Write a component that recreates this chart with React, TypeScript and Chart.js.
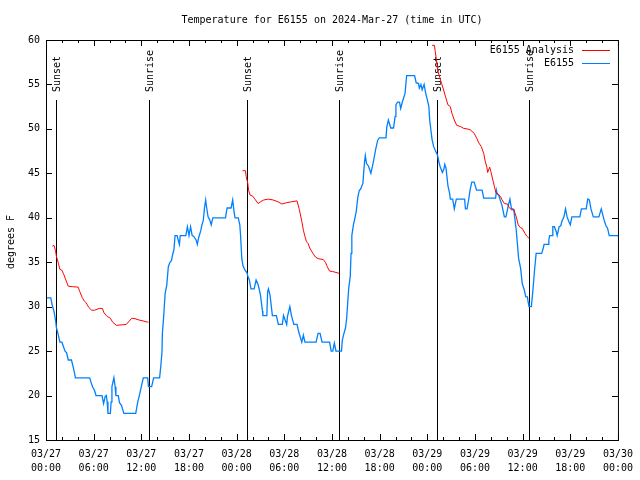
import React, { useEffect, useRef } from "react";
import { Chart, registerables } from "chart.js";

Chart.register(...registerables);

const chartTitle = "Temperature for E6155 on 2024-Mar-27 (time in UTC)";
const yAxisLabel = "degrees F";
const seriesNames = ["E6155 Analysis", "E6155"];

const xTickDates = ["03/27", "03/27", "03/27", "03/27", "03/28", "03/28", "03/28", "03/28", "03/29", "03/29", "03/29", "03/29", "03/30"];
const xTickTimes = ["00:00", "06:00", "12:00", "18:00", "00:00", "06:00", "12:00", "18:00", "00:00", "06:00", "12:00", "18:00", "00:00"];

const sunHours = [1.25, 12.92, 25.28, 36.9, 49.17, 60.8];
const sunLabels = ["Sunset", "Sunrise", "Sunset", "Sunrise", "Sunset", "Sunrise"];

// hours since 03/27 00:00 UTC
const blueHours = [
  0, 0.6, 0.8, 1.0, 1.2, 1.3, 1.55, 1.75, 2.0, 2.2, 2.4, 2.6, 2.8, 3.2, 3.4, 3.6, 3.7, 5.5, 5.7, 5.9,
  6.1, 6.3, 7.05, 7.25, 7.45, 7.6, 7.7, 7.8, 8.1, 8.2, 8.3, 8.55, 8.7, 8.8, 9.1, 9.25, 9.5, 9.8, 11.3, 11.55,
  11.75, 12.0, 12.25, 12.8, 12.9, 13.3, 13.55, 14.3, 14.45, 14.6, 14.65, 14.8, 15.0, 15.2, 15.4, 15.6, 15.8, 15.9, 16.1, 16.25,
  16.5, 16.7, 16.8, 16.9, 17.6, 17.8, 18.0, 18.2, 18.4, 18.6, 18.9, 19.05, 19.2, 19.5, 19.6, 19.8, 19.95, 20.1, 20.2, 20.4,
  20.6, 20.8, 21.0, 22.6, 22.7, 22.8, 23.3, 23.5, 23.7, 23.8, 24.2, 24.4, 24.5, 24.65, 24.8, 25.0, 25.3, 25.45, 25.6, 25.8,
  26.2, 26.45, 26.7, 27.0, 27.25, 27.3, 27.8, 27.9, 28.0, 28.2, 28.5, 29.0, 29.25, 29.75, 29.9, 30.1, 30.3, 30.4, 30.7, 30.9,
  31.2, 31.6, 31.8, 32.2, 32.4, 32.6, 34.0, 34.25, 34.5, 34.75, 35.7, 35.9, 36.1, 36.3, 36.5, 37.2, 37.3, 37.45, 37.7, 37.85,
  37.95, 38.1, 38.3, 38.4, 38.5, 38.7, 38.85, 39.05, 39.25, 39.45, 39.6, 39.9, 39.95, 40.1, 40.2, 40.35, 40.6, 40.9, 41.1, 41.3,
  41.5, 41.75, 41.95, 42.8, 42.9, 43.1, 43.4, 43.75, 43.95, 44.05, 44.25, 44.5, 44.65, 44.85, 45.2, 45.4, 46.4, 46.6, 46.9, 47.0,
  47.2, 47.35, 47.6, 47.8, 48.0, 48.2, 48.3, 48.45, 48.6, 48.8, 49.1, 49.3, 49.45, 49.6, 49.9, 50.1, 50.2, 50.35, 50.6, 50.8,
  50.9, 51.2, 51.4, 51.65, 52.7, 52.8, 53.0, 53.2, 53.4, 53.6, 53.9, 54.2, 54.9, 55.1, 56.6, 56.7, 56.8, 57.0, 57.4, 57.7,
  57.9, 58.2, 58.4, 58.6, 58.8, 58.9, 59.2, 59.3, 59.5, 59.75, 59.95, 60.2, 60.4, 60.6, 60.7, 60.8, 61.1, 61.3, 61.5, 61.7,
  62.4, 62.6, 62.7, 63.2, 63.3, 63.4, 63.7, 63.8, 64.0, 64.25, 64.35, 64.6, 64.8, 64.95, 65.2, 65.4, 65.6, 65.8, 66.0, 66.2,
  67.2, 67.4, 68.0, 68.2, 68.4, 68.6, 68.9, 69.6, 69.9, 70.1, 70.3, 70.5, 70.7, 70.9, 72.0,
];
const blueTemps = [
  31, 31, 30.1, 29.5, 28.5, 27.7, 26.8, 26, 26, 25.5, 25, 24.8, 24, 24, 23.3, 22.5, 22, 22, 21.4, 20.9,
  20.6, 20, 20, 19.1, 19.9, 20, 19.3, 18, 18, 19.3, 21, 22, 21, 20, 20, 19.2, 18.9, 18, 18, 19.3,
  20, 21, 22, 22, 21, 21, 22, 22, 23.3, 24.9, 27, 28.7, 31.5, 32.4, 34.5, 35, 35.2, 35.7, 36.4, 38,
  38, 37.3, 37, 38, 38, 39, 38, 39, 38, 37.9, 37.5, 37, 37.7, 38.6, 39.1, 39.7, 41.1, 42, 41.3, 40.1,
  39.8, 39.2, 40, 40, 40.6, 41.1, 41.1, 42, 40.5, 40, 40, 39.2, 37.9, 35.4, 34.6, 34.2, 33.8, 33.3, 33, 32,
  32, 33, 32.5, 31.3, 29.5, 29, 29, 31.7, 32, 31.3, 29, 29, 28, 28, 29, 28.5, 28, 28.9, 30, 29,
  28, 28, 27.2, 26, 26.8, 26, 26, 27, 27, 26, 26, 25, 25, 25.9, 25, 25, 26.2, 26.8, 27.6, 28.7,
  30, 32, 33.4, 36, 38, 39.2, 39.8, 40.7, 42.3, 43.1, 43.2, 43.9, 44.6, 46.3, 47, 46.1, 45.8, 45, 45.8, 46.7,
  47.7, 48.7, 49, 49, 50.2, 51, 50.1, 50.1, 51.4, 52.7, 53, 53, 52.3, 53, 54, 56, 56, 55.2, 55.1, 54.6,
  55, 54.4, 55, 54, 53.3, 52.5, 51, 49.9, 48.8, 48, 47.4, 47, 46.3, 45.8, 45.1, 45.5, 46, 45.6, 43.6, 42.8,
  42.1, 42.1, 41, 42.1, 42.1, 41, 41, 42, 43.2, 44, 44, 43.1, 43.1, 42.2, 42.2, 43.1, 42.7, 42.5, 41.4, 40.1,
  40.1, 41.4, 42.1, 41, 41, 40.8, 38.6, 37.5, 35.4, 34.3, 32.6, 31.9, 31.1, 31.1, 30.5, 30, 30, 31.9, 34.1, 36,
  36, 36.6, 37, 37, 37.5, 38, 38, 39, 39, 38.4, 38, 39, 39.1, 39.6, 40.1, 41, 40.1, 39.6, 39.2, 40.1,
  40.1, 41, 41, 42.1, 42, 41, 40.1, 40.1, 41, 40.3, 39.6, 39.1, 38.8, 38, 38,
];

// null entries separate the three analysis segments
const redHours = [
  0.8, 1.0, 1.2, 1.3, 1.55, 1.75, 2.0, 2.25, 2.5, 2.8, 3.3, 4.05, 4.25, 4.55, 4.8, 5.0, 5.4, 5.75, 6.1, 6.7,
  7.1, 7.3, 7.7, 8.1, 8.4, 8.85, 9.45, 10.1, 10.5, 10.8, 11.2, 11.7, 12.2, 12.6, 12.9,
  18.0,
  24.75, 25.1, 25.2, 25.4, 25.5, 25.7, 26.0, 26.3, 26.7, 27.0, 27.4, 28.0, 28.6, 29.2, 29.7, 30.3, 30.9, 31.6, 31.9, 32.2,
  32.4, 32.6, 32.8, 33.0, 33.2, 33.6, 33.9, 34.25, 34.9, 35.2, 35.4, 35.7, 36.1, 36.9,
  42.0,
  48.6, 48.9, 49.0, 49.15, 49.3, 49.6, 49.8, 50.0, 50.3, 50.6, 50.9, 51.1, 51.4, 51.7, 52.2, 52.6, 53.0, 53.4, 53.9, 54.25,
  54.5, 54.8, 55.1, 55.3, 55.5, 55.6, 55.85, 56.0, 56.25, 56.45, 56.65, 56.9, 57.2, 57.4, 57.7, 58.1, 58.3, 58.6, 58.9, 59.2,
  59.45, 59.7, 59.95, 60.3, 60.5, 60.8,
];
const redTemps = [
  36.8, 36.9, 36.3, 35.7, 34.9, 34.2, 34.1, 33.6, 33, 32.3, 32.25, 32.2, 31.7, 31.05, 30.65, 30.5, 29.9, 29.6, 29.6, 29.8,
  29.8, 29.3, 28.9, 28.7, 28.25, 27.9, 27.95, 28.0, 28.4, 28.7, 28.65, 28.5, 28.4, 28.3, 28.25,
  null,
  45.3, 45.3, 44.65, 43.9, 43.1, 42.55, 42.45, 42.1, 41.6, 41.8, 42.0, 42.1, 42.0, 41.8, 41.55, 41.7, 41.8, 41.9, 40.9, 39.6,
  38.6, 37.9, 37.3, 37.1, 36.6, 36.0, 35.6, 35.4, 35.3, 34.95, 34.5, 34.0, 33.95, 33.75,
  null,
  59.4, 59.4, 58.7, 57.75, 56.6, 55.7, 55.1, 54.55, 53.6, 52.7, 52.5, 51.75, 51, 50.4, 50.25, 50.05, 50.0, 49.9, 49.5, 48.9,
  48.4, 48.0, 47.25, 46.3, 45.7, 45.1, 45.7, 45.2, 44.25, 43.5, 42.8, 42.7, 42.4, 42.05, 41.6, 41.55, 41.15, 40.9, 40.9, 40.1,
  39.2, 38.9, 38.8, 38.25, 37.95, 37.7,
];

const RED = "#ff0000";
const BLUE = "#0080ff";
const FONT = "DejaVu Sans Mono";

const overlay = {
  id: "gnuplotOverlay",
  beforeDatasetsDraw(chart: any) {
    const { ctx, chartArea, scales } = chart;
    const xs = scales.x;
    ctx.save();
    ctx.strokeStyle = "#000";
    ctx.fillStyle = "#000";
    ctx.lineWidth = 1;
    ctx.font = `10px "${FONT}"`;
    sunHours.forEach((h, i) => {
      const x = Math.round(xs.getPixelForValue(h)) + 0.5;
      ctx.beginPath();
      ctx.moveTo(x, 100);
      ctx.lineTo(x, chartArea.bottom);
      ctx.stroke();
      ctx.save();
      ctx.translate(x + 1, 92);
      ctx.rotate(-Math.PI / 2);
      ctx.textAlign = "left";
      ctx.textBaseline = "middle";
      ctx.fillText(sunLabels[i], 0, 0);
      ctx.restore();
    });
    ctx.restore();
  },
  afterDraw(chart: any) {
    const { ctx, chartArea, scales } = chart;
    const xs = scales.x;
    const ys = scales.y;
    const { left, right, top, bottom } = chartArea;
    ctx.save();
    ctx.strokeStyle = "#000";
    ctx.lineWidth = 1;
    ctx.strokeRect(left + 0.5, top + 0.5, right - left, bottom - top);
    ctx.beginPath();
    for (let h = 0; h <= 72; h += 2) {
      const len = h % 6 === 0 ? 6 : 3;
      const x = Math.round(xs.getPixelForValue(h)) + 0.5;
      ctx.moveTo(x, bottom);
      ctx.lineTo(x, bottom - len);
      ctx.moveTo(x, top);
      ctx.lineTo(x, top + len);
    }
    for (let v = 15; v <= 60; v += 5) {
      const y = Math.round(ys.getPixelForValue(v)) + 0.5;
      ctx.moveTo(left, y);
      ctx.lineTo(left + 6, y);
      ctx.moveTo(right, y);
      ctx.lineTo(right - 6, y);
    }
    ctx.stroke();

    ctx.fillStyle = "#000";
    ctx.font = `10px "${FONT}"`;
    ctx.textBaseline = "middle";
    ctx.textAlign = "center";
    ctx.fillText(chartTitle, (left + right) / 2, 20);

    ctx.save();
    ctx.translate(11, 242);
    ctx.rotate(-Math.PI / 2);
    ctx.fillText(yAxisLabel, 0, 0);
    ctx.restore();

    const colors = [RED, BLUE];
    seriesNames.forEach((name, i) => {
      const y = 50 + i * 13;
      ctx.textAlign = "right";
      ctx.fillStyle = "#000";
      ctx.fillText(name, 574, y);
      ctx.strokeStyle = colors[i];
      ctx.beginPath();
      ctx.moveTo(582, y + 0.5);
      ctx.lineTo(610, y + 0.5);
      ctx.stroke();
    });
    ctx.restore();
  },
};

export default function App() {
  const ref = useRef<HTMLCanvasElement>(null);

  useEffect(() => {
    if (!ref.current) return;
    const chart = new Chart(ref.current, {
      type: "line",
      data: {
        datasets: [
          {
            label: seriesNames[0],
            data: redHours.map((h, i) => ({ x: h, y: redTemps[i] })) as any,
            borderColor: RED,
            borderWidth: 1,
            pointRadius: 0,
            tension: 0,
            spanGaps: false,
          },
          {
            label: seriesNames[1],
            data: blueHours.map((h, i) => ({ x: h, y: blueTemps[i] })),
            borderColor: BLUE,
            borderWidth: 1.3,
            pointRadius: 0,
            tension: 0,
          },
        ],
      },
      options: {
        animation: false,
        responsive: false,
        devicePixelRatio: 1,
        layout: { padding: { top: 40, right: 18, left: 0, bottom: 0 } },
        plugins: {
          legend: { display: false },
          title: { display: false },
          tooltip: { enabled: false },
        },
        scales: {
          x: {
            type: "linear",
            min: 0,
            max: 72,
            grid: { display: false, drawTicks: false },
            border: { display: false },
            ticks: {
              stepSize: 6,
              autoSkip: false,
              maxRotation: 0,
              padding: 7,
              color: "#000",
              font: { family: FONT, size: 10, lineHeight: 1.4 },
              callback: (v: any) => {
                const i = Math.round(Number(v) / 6);
                return [xTickDates[i], xTickTimes[i]];
              },
            },
            afterFit: (s: any) => {
              s.height = 40;
            },
          },
          y: {
            min: 15,
            max: 60,
            grid: { display: false, drawTicks: false },
            border: { display: false },
            ticks: {
              stepSize: 5,
              padding: 6,
              color: "#000",
              font: { family: FONT, size: 10 },
            },
            afterFit: (s: any) => {
              s.width = 46;
            },
          },
        },
      },
      plugins: [overlay],
    });
    return () => chart.destroy();
  }, []);

  return (
    <div style={{ position: "absolute", left: 0, top: 0, width: 640, height: 480, background: "#fff" }}>
      <canvas ref={ref} width={640} height={480} style={{ width: 640, height: 480 }} />
    </div>
  );
}
